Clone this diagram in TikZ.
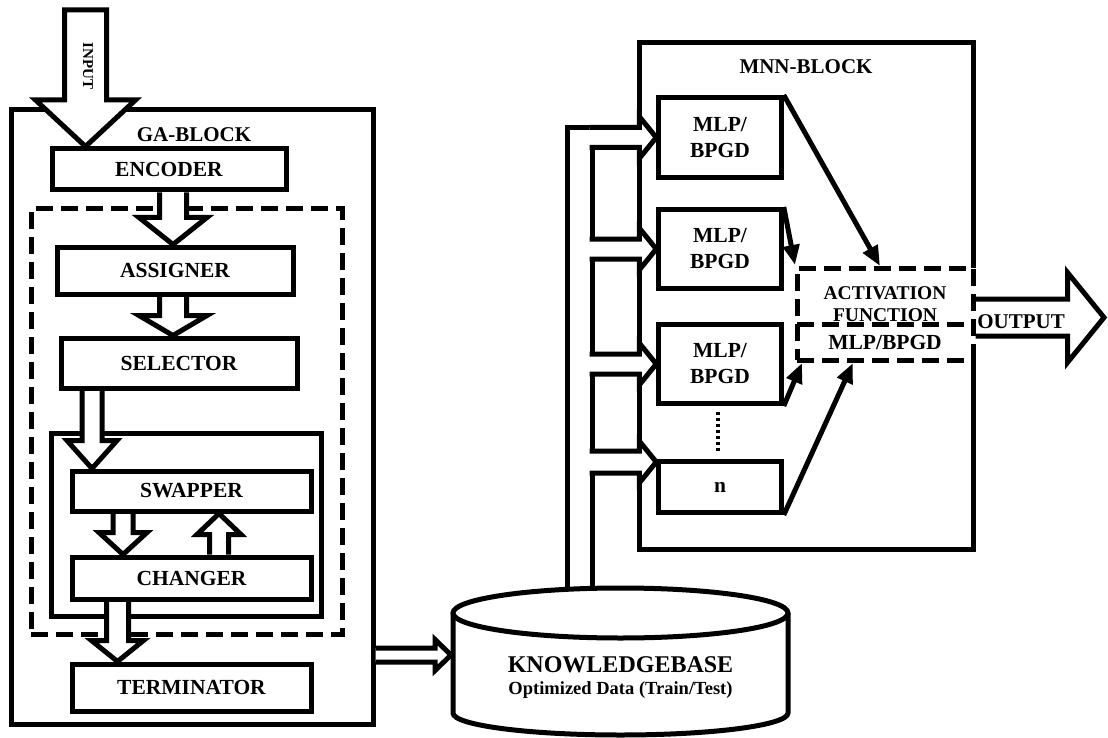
\documentclass[tikz,border=0pt]{standalone}
\usepackage{fontspec}
\setmainfont{Liberation Serif}
\usetikzlibrary{calc,arrows.meta}
\pgfdeclarelayer{background}
\pgfdeclarelayer{pipes}
\pgfsetlayers{background,pipes,main}

% hollow block arrows: #1 start, #2 tip, #3 shaft half width, #4 head half width, #5 head length
\newcommand{\hollowdown}[5]{%
  \path[hollow] let \p1=#1, \p2=#2 in
    (\x2-#3,\y1) -- (\x2-#3,\y2+#5) -- (\x2-#4,\y2+#5) -- (\x2,\y2)
    -- (\x2+#4,\y2+#5) -- (\x2+#3,\y2+#5) -- (\x2+#3,\y1);}
\newcommand{\hollowup}[5]{%
  \path[hollow] let \p1=#1, \p2=#2 in
    (\x2-#3,\y1) -- (\x2-#3,\y2-#5) -- (\x2-#4,\y2-#5) -- (\x2,\y2)
    -- (\x2+#4,\y2-#5) -- (\x2+#3,\y2-#5) -- (\x2+#3,\y1);}
\newcommand{\hollowright}[5]{%
  \path[hollow] let \p1=#1, \p2=#2 in
    (\x1,\y2+#3) -- (\x2-#5,\y2+#3) -- (\x2-#5,\y2+#4) -- (\x2,\y2)
    -- (\x2-#5,\y2-#4) -- (\x2-#5,\y2-#3) -- (\x1,\y2-#3);}

\tikzset{
  lbl/.style={font=\bfseries\fontsize{21.5}{26}\selectfont},
  title/.style={font=\bfseries\fontsize{21}{25}\selectfont},
  box/.style={draw, fill=white, line width=5pt, inner sep=0pt, align=center, lbl},
  frame/.style={draw, line width=5pt, inner sep=0pt, outer sep=0pt},
  dashframe/.style={draw, line width=5pt, dash pattern=on 17pt off 8pt, inner sep=0pt, outer sep=0pt},
  dashline/.style={line width=5pt, dash pattern=on 17pt off 8pt},
  hollow/.style={draw, fill=white, line width=5pt, line join=miter, miter limit=10},
  link/.style={line width=5pt, -{Triangle[length=20pt,width=16pt]}},
  dotline/.style={line width=3.5pt, dash pattern=on 3pt off 3pt},
  plain/.style={line width=5pt},
}

\begin{document}
\begin{tikzpicture}[x=1pt,y=-1pt]
\useasboundingbox (0,0) rectangle (1108,738);

% ---------- GA block boxes ----------
\node[box, minimum width=234pt, minimum height=41pt] (enc) at (169,169.5) {ENCODER};
\node[box, minimum width=236pt, minimum height=47pt] (asg) at (175,270.5) {ASSIGNER};
\node[box, minimum width=236pt, minimum height=50pt] (sel) at (179,363) {SELECTOR};
\node[box, minimum width=239pt, minimum height=40pt] (swp) at (191.5,491) {SWAPPER};
\node[box, minimum width=239pt, minimum height=42pt] (chg) at (191.5,578) {CHANGER};
\node[box, minimum width=239pt, minimum height=47pt] (ter) at (191.5,687.5) {TERMINATOR};
\node[title] (galabel) at (194,135) {GA-BLOCK};
\node[font=\bfseries\fontsize{15}{18}\selectfont, rotate=-90] (inlabel) at (88,66) {INPUT};
\coordinate (intop) at (88,10);

% ---------- MNN block ----------
\node[inner sep=0pt, outer sep=0pt, minimum width=334pt, minimum height=507pt] (mnn) at (806,296) {};
\node[title] (mnnlabel) at (806,67) {MNN-BLOCK};
\node[box, minimum width=122.5pt, minimum height=80pt, font=\bfseries\fontsize{21.5}{26}\selectfont] (mlp1) at (720,137.5) {MLP/\\BPGD};
\node[box, minimum width=122.5pt, minimum height=79pt, font=\bfseries\fontsize{21.5}{26}\selectfont] (mlp2) at (720,249) {MLP/\\BPGD};
\node[box, minimum width=122.5pt, minimum height=79pt, font=\bfseries\fontsize{21.5}{26}\selectfont] (mlp3) at (720,364) {MLP/\\BPGD};
\node[box, minimum width=122.5pt, minimum height=51pt] (nbox) at (720,487) {n};
\coordinate (b4tip) at ($(nbox.north west)+(0,3)$);
\draw[dotline] ($(mlp3.south)+(-2,6)$) -- ($(nbox.north)+(-2,-6)$);

% activation / output stage
\node[dashframe, minimum width=176pt, minimum height=92pt] (act) at (885,314) {};
\node[font=\bfseries\fontsize{19.5}{22}\selectfont] (acttxt) at (885,293.5) {ACTIVATION};
\node[font=\bfseries\fontsize{19.5}{22}\selectfont] (fntxt) at (885,315) {FUNCTION};
\node[lbl] (outmlp) at (885,342) {MLP/BPGD};
\draw[dashline] ($(act.west)+(0,10)$) -- ($(act.east)+(0,10)$);
\node[title] (outlabel) at (1021,322) {OUTPUT};
\coordinate (outtip) at (1104,317.5);

% ---------- knowledge base cylinder ----------
\fill[white] (453,613) -- (453,713) arc[start angle=180, end angle=0, x radius=167.5, y radius=22] -- (788,613) -- cycle;
\draw[plain] (453,613) -- (453,713) arc[start angle=180, end angle=0, x radius=167.5, y radius=22] -- (788,613);
\draw[plain, fill=white] (620.5,613) ellipse [x radius=167.5, y radius=25];
\node[font=\bfseries\fontsize{24}{28}\selectfont] (kbtitle) at (620.5,665) {KNOWLEDGEBASE};
\node[font=\bfseries\fontsize{18.5}{22}\selectfont] (kbsub) at (620.5,690) {Optimized Data (Train/Test)};
\coordinate (kbin) at (451,655);

% ---------- frames below everything ----------
\begin{pgfonlayer}{background}
  \node[frame, minimum width=362pt, minimum height=614pt] (ga) at (192,417) {};
  \node[dashframe, minimum width=311pt, minimum height=425pt] (gadash) at (186.5,421.5) {};
  \node[frame, minimum width=270pt, minimum height=183pt] (loop) at (186,524.5) {};
  \node[frame, fill=white, minimum width=25pt, minimum height=472pt] (bus) at (579.5,364) {};
  \draw[plain] (act.north east) -- (mnn.north east) -- (mnn.north west)
    -- (mnn.south west) -- (mnn.south east) -- (act.south east);
\end{pgfonlayer}

% ---------- hollow arrows ----------
\begin{pgfonlayer}{pipes}
  \path[hollow] let \p1=(intop), \p2=($(enc.north west)+(36,0)$) in
    (\x2-21pt,\y1) -- (\x2-21pt,\y2+46.5pt) -- (\x2-50pt,\y2+46.5pt) -- (\x2,\y2)
    -- (\x2+50pt,\y2+46.5pt) -- (\x2+21pt,\y2+46.5pt) -- (\x2+21pt,\y1) -- cycle;
  \hollowdown{($(enc.south west)+(123.5,0)$)}{($(asg.north west)+(118.5,0)$)}{13.5pt}{34pt}{27pt}
  \hollowdown{($(asg.south west)+(118.5,0)$)}{($(sel.north west)+(114.5,0)$)}{13.5pt}{34pt}{20pt}
  \hollowdown{($(sel.south west)+(33.5,0)$)}{($(swp.north west)+(22.5,0)$)}{10pt}{25pt}{28pt}
  \hollowdown{($(swp.south west)+(53.5,0)$)}{($(chg.north west)+(53.5,0)$)}{10pt}{24pt}{22pt}
  \hollowup{($(chg.north west)+(149.5,0)$)}{($(swp.south west)+(149.5,0)$)}{9.5pt}{22pt}{21pt}
  \hollowdown{($(chg.south west)+(48,0)$)}{($(ter.north west)+(48,0)$)}{11pt}{26pt}{21pt}
  \hollowright{($(ga.east |- kbin)+(2.5,0)$)}{(kbin)}{7pt}{15.5pt}{16pt}
  \hollowright{($(bus.east |- mlp1.west)+(-2.5,0)$)}{(mlp1.west)}{10pt}{21pt}{17pt}
  \hollowright{($(bus.east |- mlp2.west)+(-2.5,0)$)}{(mlp2.west)}{10pt}{21pt}{17pt}
  \hollowright{($(bus.east |- mlp3.west)+(-2.5,0)$)}{(mlp3.west)}{10pt}{21pt}{17pt}
  \hollowright{($(bus.east |- b4tip)+(-2.5,0)$)}{(b4tip)}{11pt}{21pt}{17pt}
  \hollowright{($(act.east |- outtip)+(2.5,0)$)}{(outtip)}{18.5pt}{45pt}{36.5pt}
\end{pgfonlayer}

% ---------- network outputs into the activation stage ----------
\draw[link] (mlp1.north east) -- ($(act.north west)+(83,-2)$);
\draw[link] (mlp2.north east) -- ($(act.north west)+(-2,-3)$);
\draw[link] (mlp3.south east) -- ($(act.south west)+(5,3)$);
\draw[link] (nbox.south east) -- ($(act.south west)+(56,3)$);
\end{tikzpicture}
\end{document}
